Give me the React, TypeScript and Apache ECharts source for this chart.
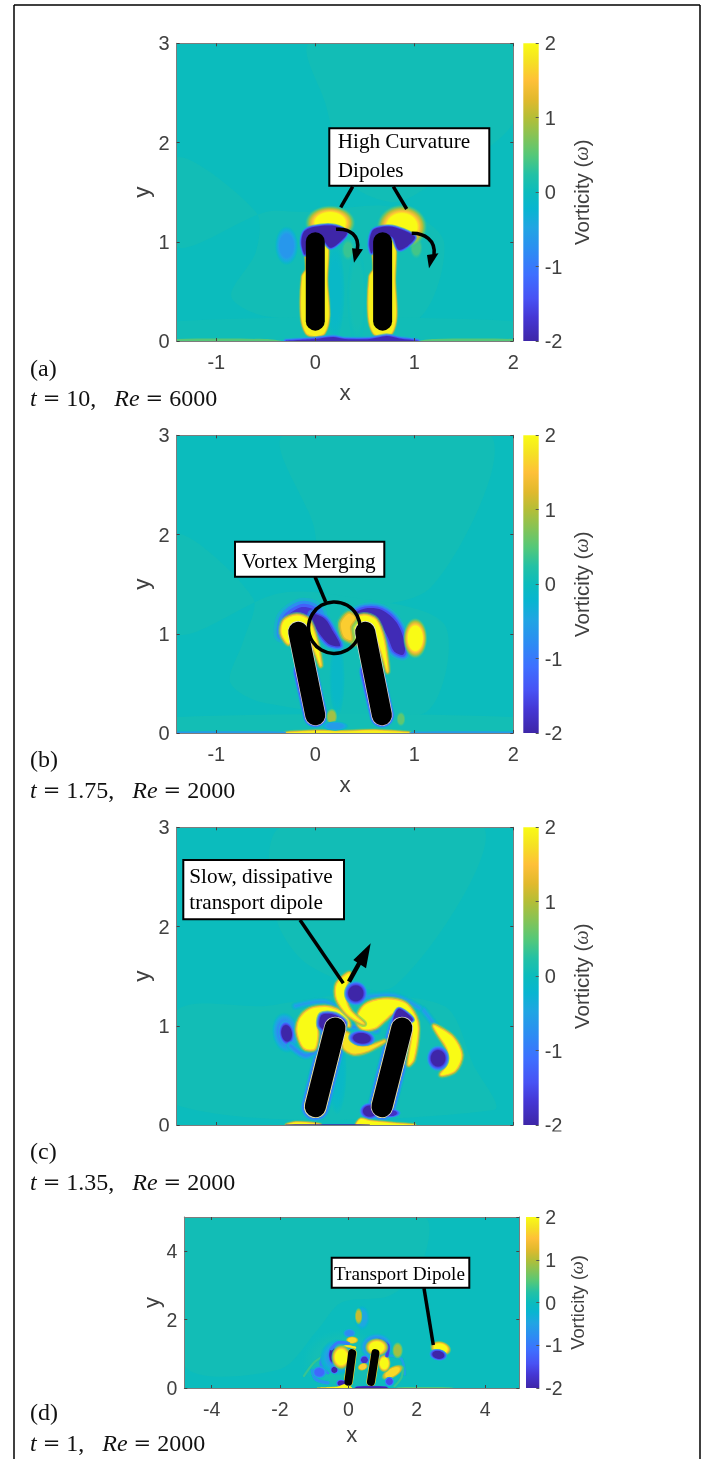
import React, { useEffect, useRef } from "react";
import * as echarts from "echarts";

// Colour scale of the figure
const colorPositions = [0, 0.08, 0.143, 0.222, 0.302, 0.381, 0.444, 0.5, 0.56, 0.625, 0.69, 0.75, 0.81, 0.875, 0.94, 1];
const colorValues = [
  [62, 38, 168], [69, 55, 213], [72, 82, 244], [62, 111, 255], [45, 140, 243], [32, 165, 227], [8, 181, 208], [11, 188, 189],
  [35, 193, 165], [85, 200, 120], [135, 195, 85], [180, 190, 55], [225, 185, 45], [254, 192, 56], [245, 225, 35], [249, 251, 21],
];
const colorbarTicks = [-2, -1, 0, 1, 2];

// rods: [x0, y0, x1, y1]
const rodsA = [[0, 0.2, 0, 1.0], [0.68, 0.2, 0.68, 1.0]];
const rodsB = [[0, 0.18, -0.172, 1.02], [0.673, 0.18, 0.504, 1.02]];
const rodsC = [[0, 0.185, 0.2, 0.978], [0.673, 0.185, 0.875, 0.978]];
const rodsD = [[0, 0.18, 0.11, 1.02], [0.66, 0.18, 0.79, 1.02]];

// vorticity features, in data units.
// ["b", x, y, rx, ry, rotationDeg, value]   soft blob
// ["p", value, halo, points]                filled patch
// ["s", value, width, halo, points]         filament
const fieldA: any[] = [
  ["p", 0.07, 0, [[-0.05, 3], [2, 3], [2, 2.2], [1.2, 1.6], [0.8, 1.4], [0.35, 1.6], [0.1, 2.4]]],
  ["p", 0.07, 0, [[-1.4, 1.85], [-0.6, 1.3], [-0.6, 0.9], [-0.85, 0.45], [-0.5, 0.25], [1.0, 0.2], [1.3, 1.0], [0.8, 1.35], [-0.1, 1.3], [-0.5, 1.3], [-1.4, 0.95]]],
  ["p", 0.06, 0, [[-1.4, 0.2], [2, 0.2], [2, 0.02], [-1.4, 0.02]]],
  ["b", 0.2, 0.5, 0.1, 0.5, 0, -0.12],
  ["b", 0.42, 0.45, 0.1, 0.5, 0, 0.1],
  ["b", -0.29, 0.96, 0.12, 0.2, 0, -0.65],
  ["b", 0.33, 0.92, 0.07, 0.12, 0, 0.35],
  ["b", 1.02, 0.94, 0.07, 0.12, 0, 0.4],
  ["b", 0.15, 1.19, 0.26, 0.18, 0, 2],
  ["b", 0.875, 1.15, 0.26, 0.23, 0, 2],
  ["p", 1.9, 1, [[0.11, 1.05], [0.115, 0.6], [0.135, 0.25], [0.09, 0.08], [0, 0.05], [-0.09, 0.08], [-0.14, 0.25], [-0.13, 0.65], [-0.09, 0.72], [-0.09, 1.05]]],
  ["p", 1.9, 1, [[0.79, 1.05], [0.8, 0.6], [0.815, 0.25], [0.77, 0.08], [0.68, 0.05], [0.59, 0.08], [0.54, 0.25], [0.55, 0.65], [0.59, 0.72], [0.59, 1.05]]],
  ["p", -2, 1, [[-0.14, 0.98], [-0.115, 1.1], [-0.02, 1.15], [0.2, 1.16], [0.32, 1.09], [0.24, 0.99], [0.149, 0.94], [0.05, 1.05], [-0.07, 1.018], [-0.105, 0.87]]],
  ["p", -2, 1, [[0.545, 0.98], [0.58, 1.115], [0.672, 1.15], [0.807, 1.145], [1.005, 1.05], [0.935, 0.96], [0.841, 0.92], [0.774, 1.05], [0.622, 1.018], [0.57, 0.885]]],
  ["p", 0.5, 0, [[-1.4, 0], [-0.35, 0], [-0.5, 0.02], [-1.4, 0.02]]],
  ["p", 0.5, 0, [[1.05, 0], [2, 0], [2, 0.02], [1.2, 0.02]]],
  ["p", -1.9, 1.2, [[-0.29, 0], [0, 0.02], [0.18, 0.04], [0.3, 0.02], [0.55, 0.02], [0.72, 0.05], [0.85, 0.025], [1.03, 0]]],
];

const fieldB: any[] = [
  ["p", 0.07, 0, [[-0.32, 3], [-0.02, 2.1], [0.15, 1.36], [1.16, 1.46], [1.77, 3]]],
  ["p", 0.07, 0, [[-1.4, 2.0], [-0.63, 1.36], [-0.73, 0.92], [-0.86, 0.51], [-0.5, 0.3], [1.1, 0.2], [1.3, 1.1], [0.15, 1.4], [-0.4, 1.4], [-1.4, 1.0]]],
  ["p", 0.08, 0, [[-1.4, 0.16], [2, 0.16], [2, 0.02], [-1.4, 0.02]]],
  ["b", 0.22, 0.55, 0.08, 0.4, 0, -0.12],
  ["s", -1.5, 0.215, 1, [[-0.1, 0.62], [0, 0.18]]],
  ["s", -1.5, 0.215, 1, [[0.57, 0.62], [0.673, 0.18]]],
  ["b", 0.166, 0.164, 0.06, 0.09, 0, 0.9],
  ["b", 0.865, 0.14, 0.05, 0.08, 0, 0.55],
  ["p", -1.7, 4, [[-0.33, 1.0], [-0.3, 1.16], [-0.155, 1.265], [-0.037, 1.255], [0.03, 1.19], [-0.037, 1.17], [-0.155, 1.18], [-0.24, 1.13], [-0.29, 1.0]]],
  ["p", -2, 2, [[-0.03, 1.2], [0.098, 1.15], [0.18, 1.022], [0.25, 0.88], [0.14, 0.895], [0.04, 1.005], [-0.02, 1.105]]],
  ["p", -1.9, 2.5, [[0.37, 1.19], [0.503, 1.255], [0.672, 1.24], [0.82, 1.115], [0.905, 0.904], [0.89, 0.79], [0.795, 0.825], [0.73, 0.971], [0.66, 1.08], [0.57, 1.14], [0.436, 1.14]]],
  ["p", 2, 1.5, [[-0.34, 1.005], [-0.315, 1.13], [-0.189, 1.185], [-0.07, 1.14], [0.01, 0.937], [0.055, 0.68], [0, 0.82], [-0.095, 1.03], [-0.206, 1.065], [-0.25, 1.03], [-0.27, 0.9]]],
  ["p", 2, 1.5, [[0.35, 0.95], [0.36, 1.125], [0.488, 1.185], [0.61, 1.14], [0.69, 0.937], [0.73, 0.62], [0.67, 0.82], [0.58, 1.03], [0.47, 1.065], [0.42, 1.03], [0.4, 0.9]]],
  ["p", 1.6, 2, [[0.335, 1.2], [0.26, 1.105], [0.29, 0.97], [0.36, 0.94], [0.35, 1.072], [0.4, 1.16]]],
  ["b", 1.01, 0.955, 0.125, 0.21, 0, 2],
  ["p", 1.9, 1, [[-0.3, 0], [0, 0.02], [0.3, 0.016], [0.6, 0.024], [0.95, 0]]],
  ["p", -0.6, 0, [[-1.4, 0], [-0.3, 0], [-0.3, 0.014], [-1.4, 0.014]]],
  ["p", -0.6, 0, [[0.95, 0], [2, 0], [2, 0.014], [1.0, 0.014]]],
  ["b", 0.2, 0.07, 0.14, 0.05, 0, -0.6],
];

const fieldC: any[] = [
  ["p", 0.07, 0, [[-0.4, 2.1], [-0.05, 1.6], [0.8, 1.4], [1.7, 3], [-0.35, 3]]],
  ["p", 0.07, 0, [[-1.4, 1.15], [-0.5, 1.2], [0.2, 1.3], [1.3, 1.2], [1.6, 0.6], [1.8, 0.15], [-1.4, 0.2]]],
  ["b", 0.22, 0.55, 0.1, 0.45, 0, -0.12],
  ["s", -0.9, 0.255, 1, [[0.2, 0.978], [0, 0.185]]],
  ["s", -0.9, 0.255, 1, [[0.875, 0.978], [0.673, 0.185]]],
  ["s", 1.8, 0.23, 0, [[0.2, 0.978], [0, 0.185]]],
  ["s", 1.8, 0.23, 0, [[0.875, 0.978], [0.673, 0.185]]],
  ["b", 0.55, 0.14, 0.11, 0.09, 0, -2],
  ["b", 0.75, 0.12, 0.12, 0.05, 0, -1.8],
  ["b", -0.3, 0.93, 0.14, 0.21, 8, -0.8],
  ["b", -0.29, 0.924, 0.085, 0.135, 8, -2],
  ["s", -0.8, 0.02, 1.5, [[-0.25, 0.8], [-0.1, 0.7], [0.03, 0.76]]],
  ["s", -0.7, 0.02, 1.5, [[0.31, 1.0], [0.45, 0.98], [0.62, 0.95]]],
  ["s", -0.6, 0.015, 1.5, [[1.09, 1.16], [1.16, 1.07], [1.22, 0.99]]],
  ["s", -0.6, 0.015, 1.5, [[0.5, 1.29], [0.8, 1.3], [1.05, 1.18]]],
  ["s", -0.6, 0.015, 1.5, [[-0.2, 1.2], [0.1, 1.24], [0.3, 1.12]]],
  ["p", 2, 1.5, [[-0.18, 0.941], [-0.155, 1.07], [-0.054, 1.165], [0.098, 1.19], [0.216, 1.16], [0.31, 1.09], [0.34, 1.0], [0.233, 1.07], [0.115, 1.1], [0.03, 1.08], [0.01, 1.024], [0.02, 0.907], [-0.01, 0.77], [-0.115, 0.78]]],
  ["p", 2, 1.5, [[0.42, 1.058], [0.5, 1.205], [0.689, 1.265], [0.9, 1.23], [1.01, 1.092], [1.035, 0.958], [0.99, 0.66], [0.942, 0.61], [0.985, 0.958], [0.925, 1.08], [0.79, 1.13], [0.7, 1.06], [0.6, 0.98], [0.48, 0.97]]],
  ["p", -2, 1.5, [[0.064, 1.109], [0.2, 1.109], [0.3, 1.024], [0.2, 0.924], [0.048, 0.991]]],
  ["p", -2, 1, [[0.841, 1.17], [0.985, 1.058], [0.79, 1.024]]],
  ["p", 2, 1.5, [[0.345, 1.53], [0.22, 1.42], [0.22, 1.27], [0.335, 1.11], [0.49, 1.02], [0.36, 1.14], [0.31, 1.243], [0.31, 1.394]]],
  ["b", 0.409, 1.327, 0.125, 0.13, 0, -2],
  ["p", 1.8, 1.5, [[0.29, 0.93], [0.29, 0.78], [0.385, 0.72], [0.52, 0.745], [0.7, 0.845], [0.537, 0.79], [0.402, 0.8], [0.34, 0.91]]],
  ["b", 0.47, 0.874, 0.145, 0.085, -5, -2],
  ["p", 2, 1.5, [[1.2, 1.0], [1.39, 0.88], [1.475, 0.705], [1.41, 0.55], [1.27, 0.505], [1.33, 0.6], [1.34, 0.756], [1.24, 0.92]]],
  ["b", 1.24, 0.672, 0.12, 0.135, 0, -2],
  ["p", 2, 1, [[-0.29, 0], [-0.2, 0.025], [-0.02, 0.016], [0.05, 0]]],
  ["p", 2, 1, [[0.42, 0], [0.46, 0.06], [0.55, 0.04], [0.8, 0.015], [1.0, 0]]],
  ["p", -2, 0, [[-0.3, 0], [0.55, 0], [0.55, 0.006], [-0.3, 0.006]]],
];

const fieldD: any[] = [
  ["p", 0.07, 0, [[-4.8, 0.65], [-2, 0.55], [-0.9, 1.7], [-0.2, 2.5], [1.2, 2.7], [2.1, 3.5], [2.2, 5], [-4.8, 5]]],
  ["b", -0.1, 0.8, 1.3, 0.95, 0, 0.1],
  ["b", 0.4, 2.05, 0.24, 0.38, 0, -0.45],
  ["b", 0.3, 2.1, 0.12, 0.26, 0, 1.1],
  ["b", 0.03, 1.6, 0.2, 0.14, 0, -0.8],
  ["b", 0.11, 1.4, 0.2, 0.12, 0, 1.7],
  ["s", 0.35, 0.05, 0.6, [[-1.3, 0.35], [-1.0, 0.75], [-0.7, 0.95]]],
  ["s", -0.7, 0.08, 0.6, [[-1.05, 0.5], [-0.95, 0.25], [-0.6, 0.15]]],
  ["s", -0.9, 0.08, 0.6, [[-0.7, 1.0], [-0.8, 0.7], [-0.6, 0.45]]],
  ["s", -0.5, 0.06, 0.6, [[1.2, 0.95], [1.55, 0.85], [1.65, 0.4]]],
  ["s", 0.35, 0.05, 0.6, [[1.35, 0.05], [1.55, 0.3], [1.6, 0.6]]],
  ["b", -0.3, 0.9, 0.55, 0.55, 0, -0.6],
  ["b", 0.83, 1.2, 0.5, 0.42, 0, -0.9],
  ["b", -0.85, 0.46, 0.22, 0.19, 0, -1.2],
  ["b", -0.41, 0.53, 0.13, 0.13, 0, -2],
  ["b", -0.46, 0.965, 0.15, 0.32, 0, -2],
  ["b", 0.47, 0.82, 0.15, 0.15, 0, -1.8],
  ["b", 0.42, 0.62, 0.17, 0.12, 20, 1.6],
  ["b", 1.44, 1.1, 0.17, 0.26, 0, 0.9],
  ["b", 1.29, 0.46, 0.38, 0.17, 30, 1.7],
  ["b", 1.2, 0.19, 0.15, 0.15, 0, -1.5],
  ["b", 1.05, 0.72, 0.2, 0.28, 0, 2],
  ["s", 1.7, 0.27, 0, [[0, 0.18], [0.11, 1.02]]],
  ["s", 1.7, 0.27, 0, [[0.66, 0.18], [0.79, 1.02]]],
  ["s", -1.6, 0.09, 0.6, [[0.9, 1.4], [1.15, 1.25], [1.13, 0.95]]],
  ["s", -1, 0.07, 0.6, [[-0.5, 1.15], [-0.3, 1.33], [0.0, 1.3]]],
  ["s", 1.9, 0.05, 0.4, [[-0.35, 1.1], [-0.1, 1.22], [0.2, 1.18]]],
  ["b", -0.21, 0.9, 0.3, 0.38, 0, 2],
  ["b", 0.83, 1.19, 0.36, 0.28, 0, 2],
  ["b", 2.7, 1.16, 0.33, 0.22, -15, 2],
  ["b", 2.63, 0.97, 0.28, 0.18, -10, -2],
  ["b", -0.21, 0.14, 0.16, 0.12, 0, -2],
  ["p", 2, 0.4, [[-0.9, 0], [-0.3, 0.04], [-0.1, 0.1], [0.1, 0]]],
  ["p", -2, 0.4, [[0.2, 0], [1.15, 0], [1.1, 0.04], [0.25, 0.04]]],
  ["p", 0.5, 0, [[1.4, 0], [3.1, 0], [2.9, 0.025], [1.5, 0.025]]],
];

const captionA = ["(a)", "{i|t} {e|=} 10,   {i|Re} {e|=} 6000"];
const captionB = ["(b)", "{i|t} {e|=} 1.75,   {i|Re} {e|=} 2000"];
const captionC = ["(c)", "{i|t} {e|=} 1.35,   {i|Re} {e|=} 2000"];
const captionD = ["(d)", "{i|t} {e|=} 1,   {i|Re} {e|=} 2000"];

function parula(v: number, alpha = 1) {
  const t = Math.max(0, Math.min(1, (v + 2) / 4));
  let i = 0;
  while (i < colorPositions.length - 2 && t > colorPositions[i + 1]) i++;
  const f = (t - colorPositions[i]) / (colorPositions[i + 1] - colorPositions[i]);
  const c = colorValues[i].map((a, k) => Math.round(a + (colorValues[i + 1][k] - a) * f));
  return `rgba(${c[0]},${c[1]},${c[2]},${alpha})`;
}

const SANS = "'Liberation Sans', Arial, sans-serif";
const SERIF = "'Liberation Serif', 'Times New Roman', serif";
const AXIS_TEXT = "#404040";

function fieldRenderer(shapes: any[], haloScale: number) {
  return (params: any, api: any) => {
    const s = shapes[params.dataIndex];
    if (s[0] === "b") {
      const [, x, y, rx, ry, rot, v] = s;
      const c = api.coord([x, y]);
      const sz = api.size([rx, ry]);
      const fill = new echarts.graphic.RadialGradient(0.5, 0.5, 0.5, [
        { offset: 0, color: parula(v) },
        { offset: 0.58, color: parula(v) },
        { offset: 0.68, color: parula(v * 0.75) },
        { offset: 0.8, color: parula(v * 0.5) },
        { offset: 0.9, color: parula(v * 0.25, 0.75) },
        { offset: 1, color: parula(v * 0.05, 0) },
      ]);
      return {
        type: "group", x: c[0], y: c[1], rotation: (rot * Math.PI) / 180,
        children: [{ type: "ellipse", shape: { cx: 0, cy: 0, rx: sz[0], ry: sz[1] }, style: { fill } }],
      };
    }
    const isPatch = s[0] === "p";
    const v = s[1];
    const halo = (isPatch ? s[2] : s[3]) * haloScale;
    const pts = (isPatch ? s[3] : s[4]).map((p: number[]) => api.coord(p));
    const w = isPatch ? 0 : api.size([s[2], 0])[0];
    const kind = isPatch ? "polygon" : "polyline";
    const layers = halo > 0
      ? [[3, 0.25, 0.55], [2, 0.5, 0.85], [1, 0.75, 1]]
      : [];
    const children: any[] = layers.map(([m, k, a]) => ({
      type: kind,
      shape: { points: pts, smooth: 0.3 },
      style: {
        fill: isPatch ? parula(v * k, a) : "none",
        stroke: parula(v * k, a),
        lineWidth: w + m * halo * 1.5,
        lineCap: "round",
        lineJoin: "round",
      },
    }));
    children.push({
      type: kind,
      shape: { points: pts, smooth: 0.3 },
      style: isPatch
        ? { fill: parula(v), stroke: "none" }
        : { fill: "none", stroke: parula(v), lineWidth: w, lineCap: "round", lineJoin: "round" },
    });
    return { type: "group", children };
  };
}

type Panel = {
  left: number; right: number; top: number; bottom: number;
  xMin: number; xMax: number; xInterval: number;
  yMax: number; yInterval: number;
  cbLeft: number; cbRight: number;
  field: any[]; rods: number[][]; rodWidth: number; rodEdge: boolean; halo: number;
  showX: boolean; fontSize: number; nameSize: number; cbNameSize: number;
  xGap: number; yGap: number; cbGap: number;
};

const W = 706;
const H = 1459;

const panels: Panel[] = [
  { left: 176.7, right: 513.3, top: 43.3, bottom: 341, xMin: -1.4, xMax: 2, xInterval: 1, yMax: 3, yInterval: 1, cbLeft: 523.3, cbRight: 538.7, field: fieldA, rods: rodsA, rodWidth: 19, rodEdge: false, halo: 1, showX: true, fontSize: 20, nameSize: 22.5, cbNameSize: 20.5, xGap: 40, yGap: 24, cbGap: 32 },
  { left: 176.7, right: 513.3, top: 435.3, bottom: 733, xMin: -1.4, xMax: 2, xInterval: 1, yMax: 3, yInterval: 1, cbLeft: 523.3, cbRight: 538.7, field: fieldB, rods: rodsB, rodWidth: 20, rodEdge: true, halo: 1, showX: true, fontSize: 20, nameSize: 22.5, cbNameSize: 20.5, xGap: 40, yGap: 24, cbGap: 32 },
  { left: 176.7, right: 513.3, top: 827.3, bottom: 1125, xMin: -1.4, xMax: 2, xInterval: 1, yMax: 3, yInterval: 1, cbLeft: 523.3, cbRight: 538.7, field: fieldC, rods: rodsC, rodWidth: 21, rodEdge: true, halo: 1, showX: false, fontSize: 20, nameSize: 22.5, cbNameSize: 20.5, xGap: 40, yGap: 24, cbGap: 32 },
  { left: 184.3, right: 519.3, top: 1217, bottom: 1388, xMin: -4.8, xMax: 5, xInterval: 2, yMax: 5, yInterval: 2, cbLeft: 526, cbRight: 539.3, field: fieldD, rods: rodsD, rodWidth: 8, rodEdge: false, halo: 0.4, showX: true, fontSize: 19.5, nameSize: 22, cbNameSize: 18.4, xGap: 35, yGap: 20, cbGap: 29 },
];

function buildOption() {
  const grid: any[] = [];
  const xAxis: any[] = [];
  const yAxis: any[] = [];
  const series: any[] = [];
  const line = { show: true, onZero: false, lineStyle: { color: "#7d7d7d", width: 1 } };
  const tick = { show: true, inside: true, length: 3, lineStyle: { color: "#444", width: 1 } };

  panels.forEach((p) => {
    const gi = grid.length;
    grid.push({
      show: true, left: p.left, top: p.top, width: p.right - p.left, height: p.bottom - p.top,
      backgroundColor: parula(0), borderWidth: 0, containLabel: false,
    });
    const xIdx = xAxis.length;
    const yIdx = yAxis.length;
    const xCommon = { type: "value", gridIndex: gi, min: p.xMin, max: p.xMax, splitLine: { show: false }, z: 10, axisLine: line, axisTick: tick };
    const xStart = Math.ceil(p.xMin / p.xInterval) * p.xInterval;
    const xTickVals: number[] = [];
    for (let t = xStart; t <= p.xMax + 1e-9; t += p.xInterval) xTickVals.push(t);
    xAxis.push({
      ...xCommon, position: "bottom",
      axisTick: { ...tick, customValues: xTickVals },
      axisLabel: { show: p.showX, customValues: xTickVals, color: AXIS_TEXT, fontFamily: SANS, fontSize: p.fontSize, margin: 11, formatter: (v: number) => String(v) },
      name: p.showX ? "x" : "", nameLocation: "middle", nameGap: p.xGap,
      nameTextStyle: { color: AXIS_TEXT, fontFamily: SANS, fontSize: p.nameSize },
    });
    xAxis.push({ ...xCommon, position: "top", axisTick: { ...tick, customValues: xTickVals }, axisLabel: { show: false } });
    const yCommon = { type: "value", gridIndex: gi, min: 0, max: p.yMax, interval: p.yInterval, splitLine: { show: false }, z: 10, axisLine: line, axisTick: tick };
    yAxis.push({
      ...yCommon, position: "left",
      axisLabel: { color: AXIS_TEXT, fontFamily: SANS, fontSize: p.fontSize, margin: 7, showMaxLabel: p.yMax === 3 },
      name: "y", nameLocation: "middle", nameGap: p.yGap, nameRotate: 90,
      nameTextStyle: { color: AXIS_TEXT, fontFamily: SANS, fontSize: p.nameSize },
    });
    yAxis.push({ ...yCommon, position: "right", axisLabel: { show: false } });

    series.push({
      type: "custom", xAxisIndex: xIdx, yAxisIndex: yIdx, clip: true, silent: true, z: 2,
      coordinateSystem: "cartesian2d",
      renderItem: fieldRenderer(p.field, p.halo),
      encode: { x: 0, y: 1 },
      data: p.field.map((s) => {
        if (s[0] === "b") return [s[1], s[2]];
        const pts = s[0] === "p" ? s[3] : s[4];
        return [pts[0][0], pts[0][1]];
      }),
    });
    p.rods.forEach((r) => {
      if (p.rodEdge) {
        series.push({
          type: "line", xAxisIndex: xIdx, yAxisIndex: yIdx, z: 4, silent: true, symbol: "none",
          lineStyle: { color: "#d9d9cf", width: p.rodWidth + 1.4, cap: "round" },
          data: [[r[0], r[1]], [r[2], r[3]]],
        });
      }
      series.push({
        type: "line", xAxisIndex: xIdx, yAxisIndex: yIdx, z: 5, silent: true, symbol: "none",
        lineStyle: { color: "#000", width: p.rodWidth, cap: "round" },
        data: [[r[0], r[1]], [r[2], r[3]]],
      });
    });

    // colour bar
    const cg = grid.length;
    grid.push({ show: false, left: p.cbLeft, top: p.top, width: p.cbRight - p.cbLeft, height: p.bottom - p.top });
    const cx = xAxis.length;
    const cy = yAxis.length;
    xAxis.push({ type: "value", gridIndex: cg, min: 0, max: 1, show: false });
    yAxis.push({
      type: "value", gridIndex: cg, min: colorbarTicks[0], max: colorbarTicks[4], interval: 1, position: "right",
      splitLine: { show: false }, z: 10,
      axisLine: { show: false, onZero: false },
      axisTick: { show: true, inside: true, length: 3, lineStyle: { color: "#555" } },
      axisLabel: { color: AXIS_TEXT, fontFamily: SANS, fontSize: p.fontSize, margin: 6 },
      name: "Vorticity ({w|ω})", nameLocation: "middle", nameGap: p.cbGap, nameRotate: 90,
      nameTextStyle: {
        color: AXIS_TEXT, fontFamily: SANS, fontSize: p.cbNameSize,
        rich: { w: { fontFamily: SERIF, fontStyle: "italic", fontSize: p.cbNameSize, color: AXIS_TEXT } },
      },
    });
    series.push({
      type: "custom", xAxisIndex: cx, yAxisIndex: cy, silent: true, coordinateSystem: "cartesian2d",
      encode: { x: 0, y: 1 },
      data: [[0, colorbarTicks[0]]],
      renderItem: (_: any, api: any) => {
        const a = api.coord([0, colorbarTicks[4]]);
        const b = api.coord([1, colorbarTicks[0]]);
        const stops = colorPositions.map((pos, i) => ({
          offset: 1 - pos,
          color: `rgb(${colorValues[i][0]},${colorValues[i][1]},${colorValues[i][2]})`,
        })).reverse();
        return {
          type: "rect", shape: { x: a[0], y: a[1], width: b[0] - a[0], height: b[1] - a[1] },
          style: { fill: new echarts.graphic.LinearGradient(0, 0, 0, 1, stops) },
        };
      },
    });
  });

  const rule = (x1: number, y1: number, x2: number, y2: number, lineWidth: number) => ({
    type: "line", z: 100, shape: { x1, y1, x2, y2 }, style: { stroke: "#000", lineWidth },
  });
  const box = (x: number, y: number, w: number, h: number) => ({
    type: "rect", z: 100, shape: { x, y, width: w, height: h }, style: { fill: "#fff", stroke: "#000", lineWidth: 2 },
  });
  const note = (x: number, y: number, text: string, fontSize: number) => ({
    type: "text", z: 101, x, y,
    style: { text, fontFamily: SERIF, fontSize, fill: "#000", align: "left", verticalAlign: "middle" },
  });
  const head = (points: number[][]) => ({ type: "polygon", z: 100, shape: { points }, style: { fill: "#000" } });
  const curve = (x1: number, y1: number, cpx1: number, cpy1: number, cpx2: number, cpy2: number, x2: number, y2: number) => ({
    type: "bezierCurve", z: 100, shape: { x1, y1, cpx1, cpy1, cpx2, cpy2, x2, y2 },
    style: { stroke: "#000", lineWidth: 3.5, fill: "none" },
  });
  const caption = (c: string[], y1: number, y2: number) => [
    { type: "text", z: 101, x: 30, y: y1, style: { text: c[0], fontFamily: SERIF, fontSize: 24, fill: "#111", align: "left", verticalAlign: "middle" } },
    {
      type: "text", z: 101, x: 30, y: y2,
      style: {
        text: c[1], fontFamily: SERIF, fontSize: 24, fill: "#111", align: "left", verticalAlign: "middle",
        rich: {
          i: { fontFamily: SERIF, fontStyle: "italic", fontSize: 24, fill: "#111" },
          e: { fontFamily: "'DejaVu Serif', serif", fontSize: 21, fill: "#111" },
        },
      },
    },
  ];

  const graphic: any[] = [
    // page frame
    rule(14, 5, 700, 5, 1.5), rule(14, 5, 14, H, 1.5), rule(700, 5, 700, H, 1.5),
    // cover under panel c
    { type: "rect", z: 90, shape: { x: 100, y: 1131.5, width: 500, height: 40 }, style: { fill: "#fff" } },
    // panel a notes
    rule(352.7, 186.7, 340.7, 207.3, 3.5), rule(393.3, 186.7, 406.7, 209, 3.5),
    box(329.3, 128.3, 160, 57.4),
    note(337.7, 141, "High Curvature", 21.2), note(337.7, 170, "Dipoles", 21.2),
    curve(336, 229.3, 350, 228, 360, 236, 357.3, 250), head([[354, 262.7], [352, 248.3], [363, 249.3]]),
    curve(411.7, 233.3, 424, 233, 436, 240, 434, 255), head([[429, 268.3], [427, 255], [438.5, 253.3]]),
    // panel b notes
    rule(315, 576.7, 325.7, 602, 3.5),
    box(235, 541.7, 149.3, 35),
    note(241.7, 561, "Vortex Merging", 21.2),
    { type: "circle", z: 100, shape: { cx: 334.3, cy: 627.7, r: 25.8 }, style: { fill: "none", stroke: "#000", lineWidth: 3.5 } },
    // panel c notes
    rule(300, 920, 343.3, 983.3, 3.5),
    box(183.3, 860, 160.7, 59.3),
    note(189.3, 875.7, "Slow, dissipative", 21.2), note(189.3, 902.3, "transport dipole", 21.2),
    rule(349, 981.7, 361, 960, 4.5), head([[370.7, 943.3], [353.3, 960], [366, 968.3]]),
    // panel d notes
    rule(424, 1288.3, 433.3, 1345, 3.5),
    box(331.7, 1257.7, 137.6, 30),
    note(334, 1273, "Transport Dipole", 19.2),
    ...caption(captionA, 368, 398),
    ...caption(captionB, 759, 790),
    ...caption(captionC, 1151, 1182),
    ...caption(captionD, 1412, 1443),
  ];

  return { animation: false, backgroundColor: "#fff", grid, xAxis, yAxis, series, graphic };
}

export default function App() {
  const ref = useRef<HTMLDivElement>(null);
  useEffect(() => {
    document.body.style.margin = "0";
    const chart = echarts.init(ref.current!, undefined, { renderer: "svg", width: W, height: H });
    chart.setOption(buildOption());
    return () => chart.dispose();
  }, []);
  return <div ref={ref} style={{ width: W, height: H, filter: "blur(0.4px)" }} />;
}
